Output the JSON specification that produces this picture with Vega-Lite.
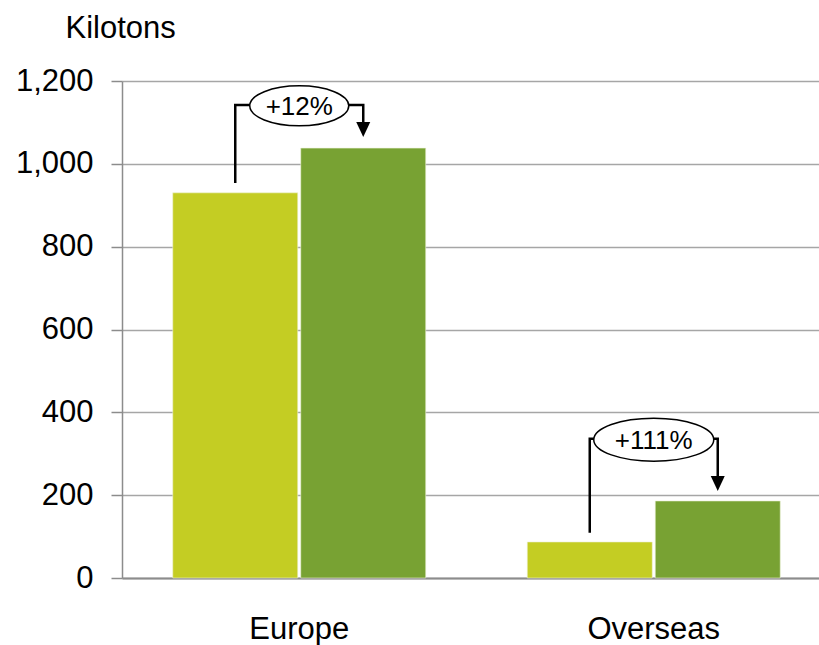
{
  "$schema": "https://vega.github.io/schema/vega-lite/v6.json",
  "width": 697,
  "height": 497,
  "autosize": {"type": "none"},
  "padding": {"left": 122, "top": 81, "right": 0, "bottom": 67},
  "background": "white",
  "config": {
    "view": {"stroke": null},
    "font": "Liberation Sans",
    "axis": {"labelColor": "black", "titleColor": "black", "labelFont": "Liberation Sans", "titleFont": "Liberation Sans"}
  },
  "datasets": {
    "bars": [
      {"region": "Europe", "period": "Before", "value": 930},
      {"region": "Europe", "period": "After", "value": 1038},
      {"region": "Overseas", "period": "Before", "value": 87},
      {"region": "Overseas", "period": "After", "value": 186}
    ],
    "brackets": [
      {"region": "Europe", "period": "Before", "value": 954, "step": 1},
      {"region": "Europe", "period": "Before", "value": 1142, "step": 2},
      {"region": "Europe", "period": "After", "value": 1142, "step": 3},
      {"region": "Europe", "period": "After", "value": 1101, "step": 4},
      {"region": "Overseas", "period": "Before", "value": 109, "step": 1},
      {"region": "Overseas", "period": "Before", "value": 336, "step": 2},
      {"region": "Overseas", "period": "After", "value": 336, "step": 3},
      {"region": "Overseas", "period": "After", "value": 246, "step": 4}
    ],
    "arrows": [
      {"region": "Europe", "period": "After", "value": 1083},
      {"region": "Overseas", "period": "After", "value": 228}
    ],
    "labels": [
      {"region": "Europe", "value": 1140, "label": "+12%"},
      {"region": "Overseas", "value": 334, "label": "+111%"}
    ]
  },
  "layer": [
    {
      "data": {"name": "bars"},
      "mark": {"type": "bar", "stroke": "#eef2d8", "strokeWidth": 0.6},
      "encoding": {
        "x": {
          "field": "region", "type": "nominal", "sort": ["Europe", "Overseas"],
          "scale": {"range": [0, 709], "paddingInner": 0, "paddingOuter": 0},
          "axis": {"title": null, "labelFontSize": 31, "labelAngle": 0, "ticks": false, "tickSize": 0, "labelPadding": 36, "domainColor": "#8c8c8c", "domainWidth": 2, "grid": false}
        },
        "xOffset": {
          "field": "period", "type": "nominal", "sort": ["Before", "After"],
          "scale": {"paddingInner": 0.0234, "paddingOuter": 0.3965}
        },
        "y": {
          "field": "value", "type": "quantitative",
          "scale": {"domain": [0, 1200], "nice": false},
          "axis": {
            "values": [0, 200, 400, 600, 800, 1000, 1200], "format": ",d",
            "labelFontSize": 31, "tickSize": 11, "labelPadding": 18, "tickColor": "#8c8c8c", "tickWidth": 1.5,
            "domainColor": "#8c8c8c", "domainWidth": 1.5,
            "gridColor": "#a6a6a6", "gridWidth": 1.5,
            "title": "Kilotons", "titleAngle": 0, "titleAlign": "left", "titleBaseline": "alphabetic",
            "titleX": -57, "titleY": -44, "titleFontSize": 31, "titleFontWeight": "normal"
          }
        },
        "color": {
          "field": "period", "type": "nominal", "sort": ["Before", "After"],
          "scale": {"domain": ["Before", "After"], "range": ["#c4cd23", "#78a233"]},
          "legend": null
        }
      }
    },
    {
      "data": {"name": "brackets"},
      "mark": {"type": "line", "color": "black", "strokeWidth": 2.5, "strokeCap": "butt", "strokeJoin": "miter"},
      "encoding": {
        "x": {"field": "region", "type": "nominal"},
        "xOffset": {"field": "period", "type": "nominal", "sort": ["Before", "After"]},
        "y": {"field": "value", "type": "quantitative"},
        "detail": {"field": "region"},
        "order": {"field": "step", "type": "quantitative"}
      }
    },
    {
      "data": {"name": "arrows"},
      "mark": {"type": "point", "shape": "M-7,-7.5L7,-7.5L0,7.5Z", "size": 4, "filled": true, "color": "black", "opacity": 1},
      "encoding": {
        "x": {"field": "region", "type": "nominal"},
        "xOffset": {"field": "period", "type": "nominal", "sort": ["Before", "After"]},
        "y": {"field": "value", "type": "quantitative"}
      }
    },
    {
      "data": {"name": "labels"},
      "mark": {"type": "point", "size": 4, "filled": false, "fill": "white", "fillOpacity": 1, "stroke": "black", "strokeWidth": 1.5, "opacity": 1},
      "encoding": {
        "x": {"field": "region", "type": "nominal"},
        "y": {"field": "value", "type": "quantitative"},
        "shape": {
          "field": "region", "type": "nominal",
          "scale": {"domain": ["Europe", "Overseas"], "range": ["M-49.5,0A49.5,20 0 1,1 49.5,0A49.5,20 0 1,1 -49.5,0Z", "M-60,0A60,21.5 0 1,1 60,0A60,21.5 0 1,1 -60,0Z"]},
          "legend": null
        }
      }
    },
    {
      "data": {"name": "labels"},
      "mark": {"type": "text", "fontSize": 26, "color": "black", "baseline": "middle", "align": "center", "dy": 1},
      "encoding": {
        "x": {"field": "region", "type": "nominal"},
        "y": {"field": "value", "type": "quantitative"},
        "text": {"field": "label"}
      }
    }
  ]
}
